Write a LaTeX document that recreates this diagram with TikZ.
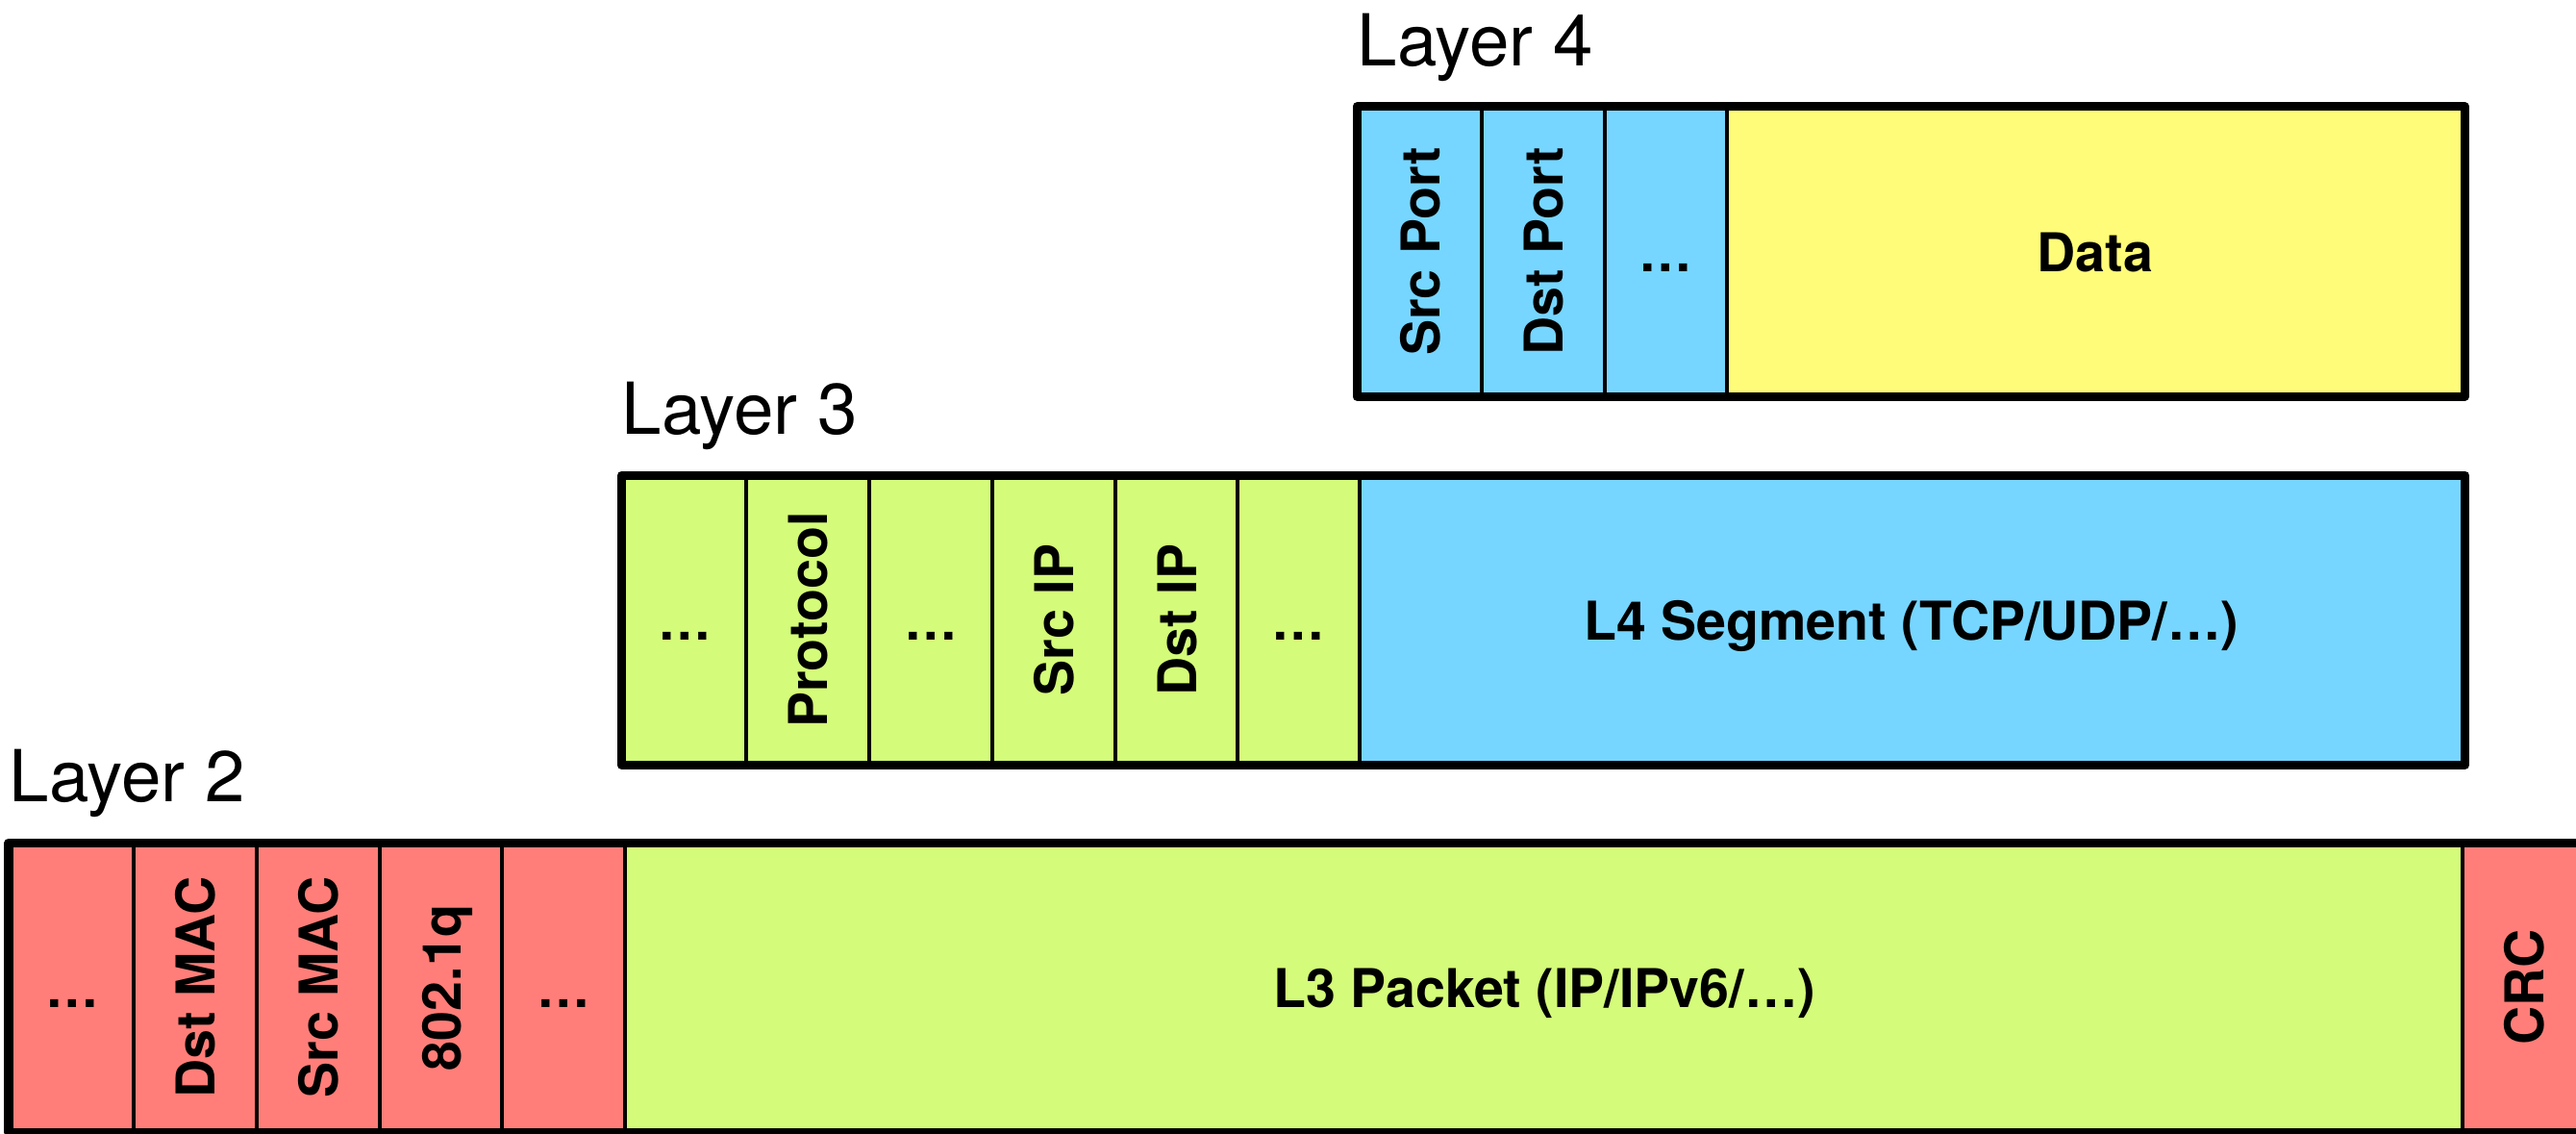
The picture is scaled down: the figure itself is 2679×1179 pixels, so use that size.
\documentclass[tikz,border=0pt]{standalone}
\usepackage{fontspec}
\setmainfont{TeX Gyre Heros}
\usepackage{graphicx}
\definecolor{salmon}{HTML}{FF7E79}
\definecolor{honeydew}{HTML}{D4FB79}
\definecolor{sky}{HTML}{76D6FF}
\definecolor{banana}{HTML}{FFFC79}
\newcommand{\lbox}[1]{\raisebox{0pt}[0.75em][0pt]{#1}}
\newcommand{\vlab}[1]{\rotatebox{90}{\lbox{#1}}}
\begin{document}
\begin{tikzpicture}[x=0.01cm,y=-0.01cm,
  cell/.style={draw=black, line width=1.14pt, inner sep=0pt, anchor=north west,
    minimum height=2.97cm, font=\fontsize{15.8}{18}\selectfont\bfseries},
  frame/.style={draw=black, line width=2.56pt, line join=round},
  layerlabel/.style={anchor=base west, inner sep=0pt, yshift=0.42cm,
    font=\fontsize{21.2}{24}\selectfont}]
\clip (0,0) rectangle (2679,1179);

% ---------- Layer 4 ----------
\node[cell, fill=sky, minimum width=1.28cm] (l4a) at (1411,111) {\vlab{Src Port}};
\node[cell, fill=sky, minimum width=1.28cm] (l4b) at (1539,111) {\vlab{Dst Port}};
\node[cell, fill=sky, minimum width=1.27cm] (l4c) at (1667,111) {\lbox{…}};
\node[cell, fill=banana, minimum width=7.65cm] (l4d) at (1794,111) {\lbox{Data}};
\draw[frame] (l4a.north west) rectangle (l4d.south east);
\node[layerlabel] (lab4) at (l4a.north west) {Layer 4};

% ---------- Layer 3 ----------
\node[cell, fill=honeydew, minimum width=1.28cm] (l3a) at (646,494) {\lbox{…}};
\node[cell, fill=honeydew, minimum width=1.28cm] (l3b) at (774,494) {\vlab{Protocol}};
\node[cell, fill=honeydew, minimum width=1.28cm] (l3c) at (902,494) {\lbox{…}};
\node[cell, fill=honeydew, minimum width=1.28cm] (l3d) at (1030,494) {\vlab{Src IP}};
\node[cell, fill=honeydew, minimum width=1.27cm] (l3e) at (1158,494) {\vlab{Dst IP}};
\node[cell, fill=honeydew, minimum width=1.27cm] (l3f) at (1285,494) {\lbox{…}};
\node[cell, fill=sky, minimum width=11.47cm] (l3g) at (1412,494) {\lbox{L4 Segment (TCP/UDP/…)}};
\draw[frame] (l3a.north west) rectangle (l3g.south east);
\node[layerlabel] (lab3) at (l3a.north west) {Layer 3};

% ---------- Layer 2 ----------
\node[cell, fill=salmon, minimum width=1.28cm] (l2a) at (9,876) {\lbox{…}};
\node[cell, fill=salmon, minimum width=1.28cm] (l2b) at (137,876) {\vlab{Dst MAC}};
\node[cell, fill=salmon, minimum width=1.28cm] (l2c) at (265,876) {\vlab{Src MAC}};
\node[cell, fill=salmon, minimum width=1.27cm] (l2d) at (393,876) {\vlab{802.1q}};
\node[cell, fill=salmon, minimum width=1.28cm] (l2e) at (520,876) {\lbox{…}};
\node[cell, fill=honeydew, minimum width=19.11cm] (l2f) at (648,876) {\lbox{L3 Packet (IP/IPv6/…)}};
\node[cell, fill=salmon, minimum width=1.28cm] (l2g) at (2559,876) {\vlab{CRC}};
\draw[frame] (l2a.north west) rectangle (l2g.south east);
\node[layerlabel] (lab2) at (l2a.north west) {Layer 2};
\end{tikzpicture}
\end{document}
